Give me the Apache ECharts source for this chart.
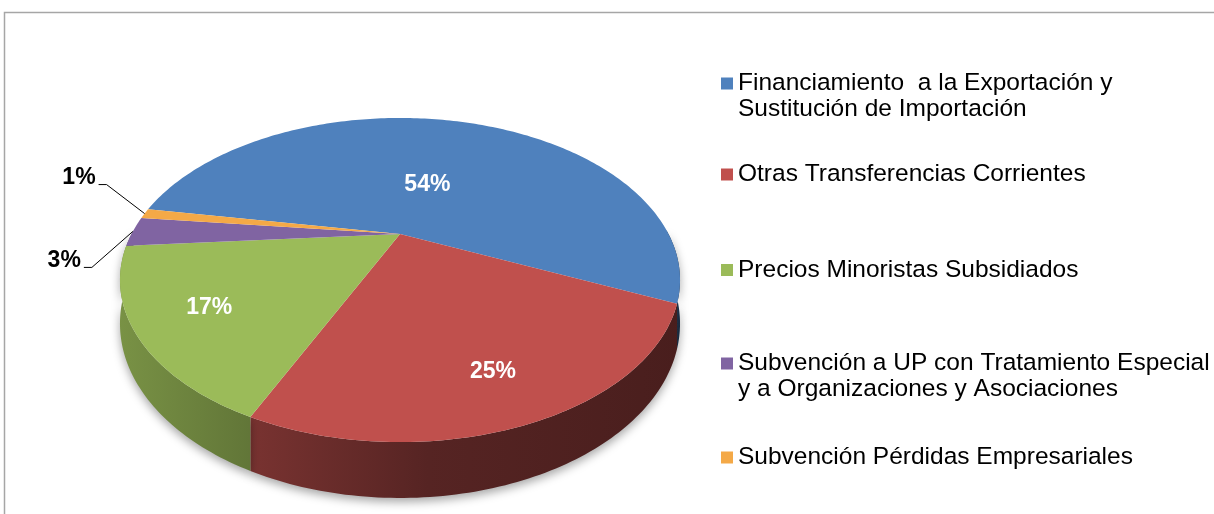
<!DOCTYPE html>
<html>
<head>
<meta charset="utf-8">
<script src="https://cdn.jsdelivr.net/npm/echarts@6/dist/echarts.min.js"></script>
<style>
  html, body { margin: 0; padding: 0; background: #fff; }
  #chart { width: 1214px; height: 514px; }
</style>
</head>
<body>
<div id="chart"></div>
<script>
const categories = [
  'Financiamiento  a la Exportación y\nSustitución de Importación',
  'Otras Transferencias Corrientes',
  'Precios Minoristas Subsidiados',
  'Subvención a UP con Tratamiento Especial\ny a Organizaciones y Asociaciones',
  'Subvención Pérdidas Empresariales'
];
const shares = [54, 25, 17, 3, 1];
const colors = ['#4F81BD', '#C0504D', '#9BBB59', '#8064A2', '#F4A947'];

// look of the tilted pie
const CX = 400, CY = 234, RX = 268.5, RY = 149, K = 0.284, DEPTH = 40;
const START = 280;              // first slice angle, clockwise from 12 o'clock
const labelR = [0.38, 0.78, 0.76]; // where the inside labels sit
const outLabel = {3: [-41, 36], 4: [-38, -29]}; // elbow offsets of the small slices
const legendMid = [83.5, 174.5, 270, 363.5, 457.5];
const LINE_H = 26;

const total = shares.reduce((a, b) => a + b, 0);

function proj(deg, r, drop) {
  const t = deg * Math.PI / 180;
  const u = r * Math.cos(t), v = r * Math.sin(t);
  const w = 1 - K * v;
  return [CX + RX * u / w, CY + RY * v / w + (drop ? DEPTH / w : 0)];
}

function shade(hex, f) {
  const n = parseInt(hex.slice(1), 16);
  const r = Math.round(((n >> 16) & 255) * f);
  const g = Math.round(((n >> 8) & 255) * f);
  const b = Math.round((n & 255) * f);
  return 'rgb(' + r + ',' + g + ',' + b + ')';
}

function wallFill(idx) {
  const c = colors[idx];
  return new echarts.graphic.LinearGradient(CX - RX * 1.05, 0, CX + RX * 1.05, 0, [
    {offset: 0, color: shade(c, 0.78)},
    {offset: 0.25, color: shade(c, 0.62)},
    {offset: 0.55, color: shade(c, 0.45)},
    {offset: 1, color: shade(c, 0.38)}
  ], true);
}

function renderSlice(idx) {
  return function (params, api) {
    let before = 0;
    for (let j = 0; j < idx; j++) before += shares[j];
    const val = api.value(0);
    const a0 = START - 90 + before / total * 360;
    const a1 = a0 + val / total * 360;
    const n = Math.max(4, Math.ceil(a1 - a0));
    const children = [];

    // top face
    const top = [[CX, CY]];
    for (let i = 0; i <= n; i++) top.push(proj(a0 + (a1 - a0) * i / n, 1));
    children.push({type: 'polygon', z2: 10, shape: {points: top}, style: {fill: colors[idx]}});

    // front wall
    let run = [];
    const flush = function () {
      if (run.length > 1) {
        const pts = run.map(d => proj(d, 1)).concat(run.slice().reverse().map(d => proj(d, 1, true)));
        children.push({
          type: 'polygon', z2: 1, shape: {points: pts},
          style: {fill: wallFill(idx), shadowBlur: 10, shadowColor: 'rgba(0,0,0,0.35)', shadowOffsetY: 4}
        });
      }
      run = [];
    };
    for (let i = 0; i <= n; i++) {
      const d = a0 + (a1 - a0) * i / n;
      if (Math.sin(d * Math.PI / 180) > -0.03) run.push(d); else flush();
    }
    flush();

    // label
    const mid = (a0 + a1) / 2;
    const txt = val + '%';
    if (outLabel[idx]) {
      const p = proj(mid, 1);
      const e = [p[0] + outLabel[idx][0], p[1] + outLabel[idx][1]];
      const h = [e[0] - 8, e[1]];
      children.push({type: 'polyline', z2: 20, shape: {points: [p, e, h]}, style: {stroke: '#000', lineWidth: 1, fill: null}});
      children.push({type: 'text', z2: 20, x: h[0] - 3, y: e[1] + 5,
        style: {text: txt, fill: '#000', fontFamily: 'Liberation Sans', fontWeight: 'bold', fontSize: 23, align: 'right', verticalAlign: 'bottom'}});
    } else {
      const p = proj(mid, labelR[idx]);
      children.push({type: 'text', z2: 20, x: p[0], y: p[1],
        style: {text: txt, fill: '#fff', fontFamily: 'Liberation Sans', fontWeight: 'bold', fontSize: 23, align: 'center', verticalAlign: 'middle'}});
    }
    return {type: 'group', children: children};
  };
}

const chart = echarts.init(document.getElementById('chart'));

chart.setOption({
  animation: false,
  graphic: [{
    type: 'rect', silent: true,
    shape: {x: 4.5, y: 12.5, width: 1300, height: 600},
    style: {fill: 'none', stroke: '#a6a6a6', lineWidth: 1.5}
  }],
  legend: categories.map((name, i) => {
    const multi = name.indexOf('\n') >= 0;
    return {
      data: [name],
      left: 721,
      top: legendMid[i] - (multi ? 1.5 : 0.5) * LINE_H,
      padding: 0,
      icon: 'rect',
      itemWidth: 12,
      itemHeight: 12,
      selectedMode: false,
      formatter: n => (n.indexOf('\n') >= 0 ? '\n' + n : n),
      textStyle: {fontFamily: 'Liberation Sans', fontSize: 24.5, lineHeight: LINE_H, color: '#000'}
    };
  }),
  series: categories.map((name, i) => ({
    type: 'custom',
    name: name,
    coordinateSystem: 'none',
    itemStyle: {color: colors[i]},
    data: [shares[i]],
    renderItem: renderSlice(i)
  }))
});
</script>
</body>
</html>
